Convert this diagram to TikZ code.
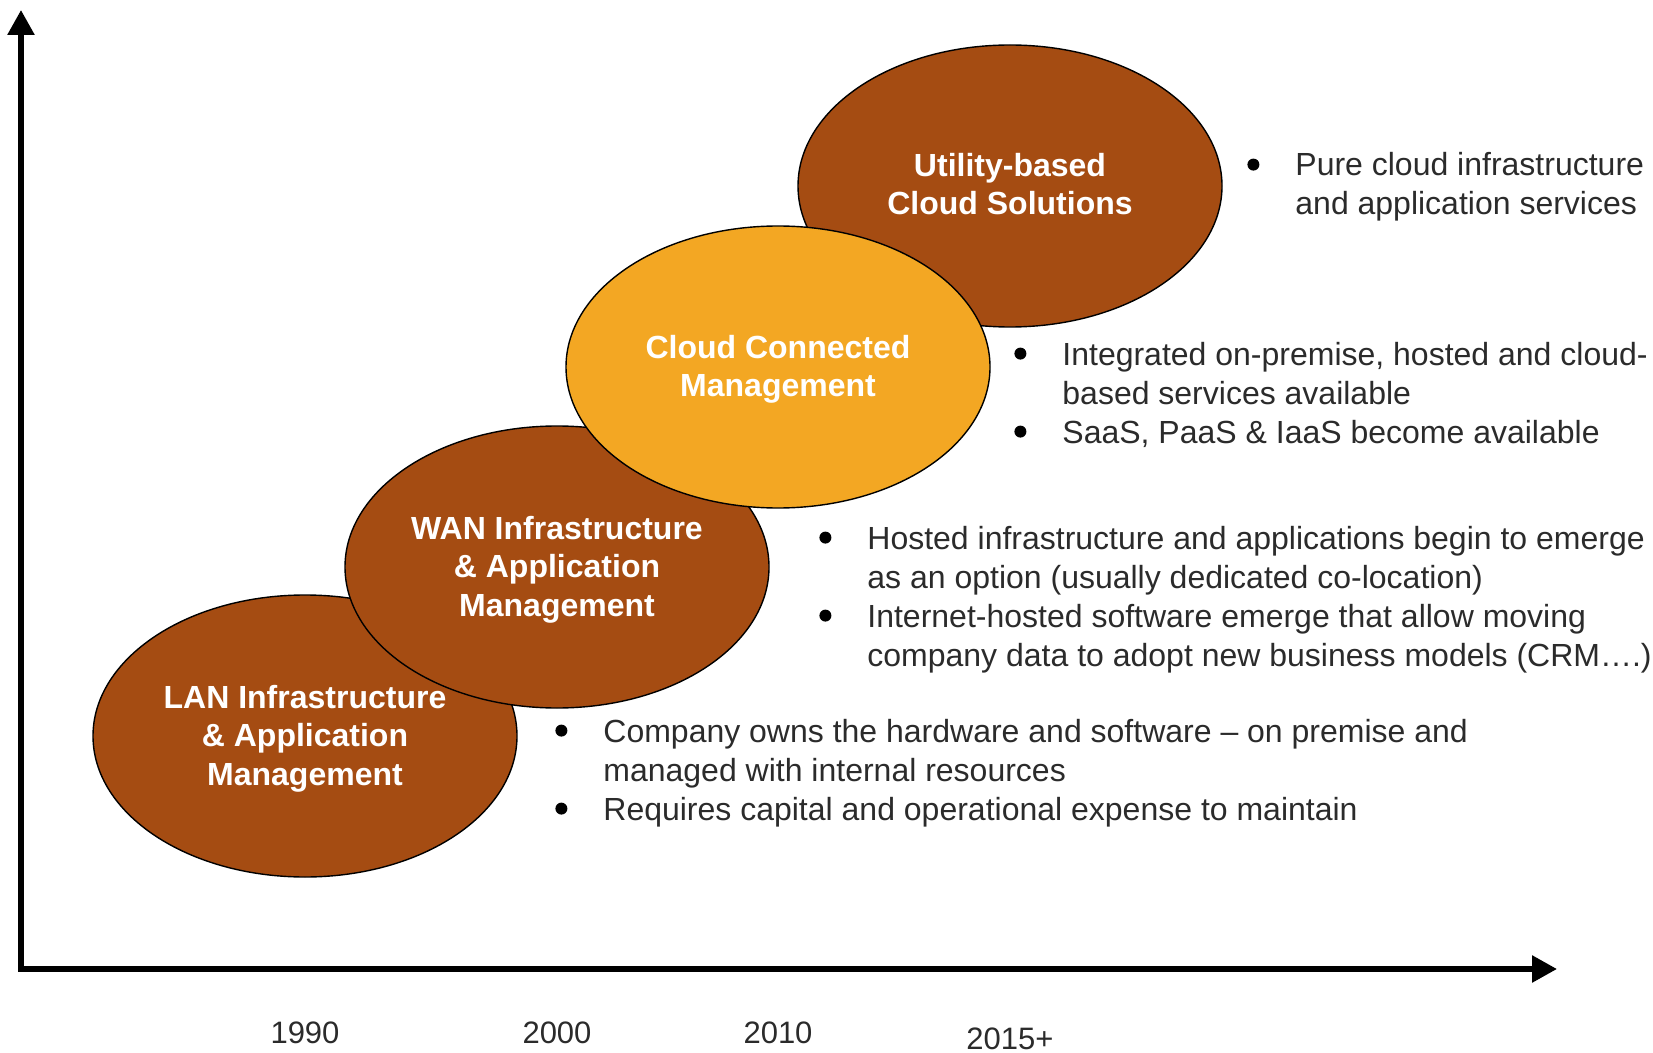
\documentclass[tikz,border=0pt]{standalone}
\usepackage{fontspec}
\setmainfont{Liberation Sans}
\usetikzlibrary{shapes.geometric,arrows.meta,positioning}
\definecolor{rust}{HTML}{A54C12}
\definecolor{amber}{HTML}{F3A723}
\definecolor{ink}{HTML}{2B2B2B}
\tikzset{
    era/.style={ellipse,draw=black,line width=0.7pt,
        minimum width=212pt,minimum height=141pt,inner sep=0pt},
    era label/.style={text=white,align=center,yshift=-1.2pt,
        font=\fontsize{16}{19.3}\selectfont\bfseries},
    notes/.style={anchor=base west,inner sep=0pt,text=ink,
        font=\fontsize{16}{19.5}\selectfont},
    year/.style={text=ink,font=\fontsize{15.5}{18}\selectfont},
    axes/.style={line width=2.8pt,line join=miter,<->,
        >={Triangle[length=12.5pt,width=13pt]}}
}
% bullet of the note lists
\newcommand{\bul}{\makebox[6pt]{\tikz[baseline={(0,-5.7pt)}]\fill[black] (0,0) circle (3pt);}}

\begin{document}
\begin{tikzpicture}[x=0.5pt,y=-0.5pt]
\useasboundingbox (0,0) rectangle (1653,1053);

% axes
\coordinate (origin) at (21,969);
\coordinate (ytip) at (21,10);
\coordinate (xtip) at (1557,969);
\draw[axes] (ytip) -- (origin) -- (xtip);

% eras, back to front
\node[era,fill=rust] (lan) at (305,736) {};
\node[era,fill=rust] (wan) at (557,567) {};
\node[era,fill=rust] (util) at (1010,186) {};
\node[era,fill=amber] (cloud) at (778,367) {};

\node[era label] (lan text) at (lan) {LAN Infrastructure\\\& Application\\Management};
\node[era label] (wan text) at (wan) {WAN Infrastructure\\\& Application\\Management};
\node[era label] (cloud text) at (cloud) {Cloud Connected\\Management};
\node[era label,yshift=2.2pt] (util text) at (util) {Utility-based\\Cloud Solutions};

% notes next to each era
\node[notes] (util notes) at (1247,176) {\begin{tabular}[t]{@{}c@{\hspace{18pt}}l@{}}
    \bul & Pure cloud infrastructure\\
         & and application services
  \end{tabular}};
\node[notes] (cloud notes) at (1014,365) {\begin{tabular}[t]{@{}c@{\hspace{18pt}}l@{}}
    \bul & Integrated on-premise, hosted and cloud-\\
         & based services available\\
    \bul & SaaS, PaaS \& IaaS become available
  \end{tabular}};
\node[notes] (wan notes) at (819,549) {\begin{tabular}[t]{@{}c@{\hspace{18pt}}l@{}}
    \bul & Hosted infrastructure and applications begin to emerge\\
         & as an option (usually dedicated co-location)\\
    \bul & Internet-hosted software emerge that allow moving\\
         & company data to adopt new business models (CRM….)
  \end{tabular}};
\node[notes] (lan notes) at (555,742) {\begin{tabular}[t]{@{}c@{\hspace{18pt}}l@{}}
    \bul & Company owns the hardware and software – on premise and\\
         & managed with internal resources\\
    \bul & Requires capital and operational expense to maintain
  \end{tabular}};

% years under the eras
\coordinate (years) at (0,1033);
\foreach \era/\yr/\dy in {lan/1990/0pt, wan/2000/0pt, cloud/2010/0pt, util/2015+/-3pt}
  \node[year,yshift=\dy] (\era year) at (\era |- years) {\yr};
\end{tikzpicture}
\end{document}
